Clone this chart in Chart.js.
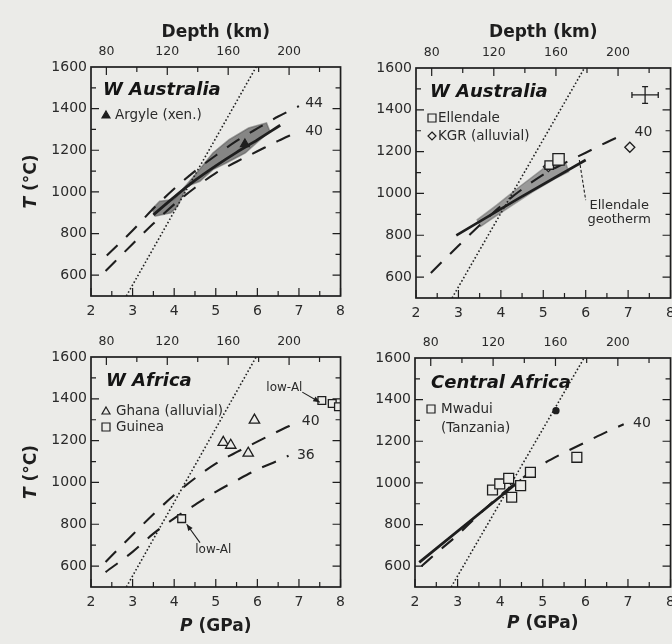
<!DOCTYPE html>
<html>
<head>
<meta charset="utf-8">
<title>P-T geotherms</title>
<script src="https://cdn.jsdelivr.net/npm/chart.js@4.4.1/dist/chart.umd.min.js"></script>
<style>
  html, body { margin: 0; padding: 0; width: 672px; height: 644px; overflow: hidden; background: #ebebe8; }
  canvas { position: absolute; }
</style>
</head>
<body>
<canvas id="wa-argyle" width="352" height="322" style="left:0;top:0"></canvas>
<canvas id="wa-ellendale" width="330" height="322" style="left:352px;top:0"></canvas>
<canvas id="w-africa" width="352" height="322" style="left:0;top:322px"></canvas>
<canvas id="c-africa" width="330" height="322" style="left:352px;top:322px"></canvas>
<script>
// ---- values: P in GPa, T in deg C ----
const pTicks = [2, 3, 4, 5, 6, 7, 8];
const tTicks = [600, 800, 1000, 1200, 1400, 1600];
const depthTicks = [80, 120, 160, 200];
// depth (km) that lines up with P = 2 and P = 8 on the top axis
const DEPTH_AT_P2 = 69.9;
const DEPTH_AT_P8 = 233.8;

// graphite / diamond boundary (dotted)
const gdP = [2.85, 5.97];
const gdT = [500, 1600];

// model conductive geotherms (dashed), 44 / 40 / 36 mW/m2
const geo44P = [2.38, 3.0, 3.5, 4.0, 4.5, 5.0, 5.5, 6.0, 6.5, 7.0];
const geo44T = [694, 815, 920, 1015, 1100, 1175, 1245, 1305, 1362, 1412];
const geo40P = [2.35, 3.0, 3.5, 4.0, 4.5, 5.0, 5.5, 6.0, 6.5, 6.9];
const geo40T = [620, 750, 848, 940, 1020, 1090, 1145, 1195, 1245, 1282];
const geo36P = [2.35, 3.0, 3.5, 4.0, 4.5, 5.0, 5.5, 6.0, 6.5, 6.75];
const geo36T = [571, 668, 755, 828, 893, 955, 1010, 1062, 1105, 1128];

// W Australia - Argyle xenoliths
const argCloudP = [3.46, 3.65, 4.0, 4.23, 4.54, 4.93, 5.32, 5.79, 6.22, 6.3, 6.02, 5.71, 5.25, 4.93, 4.62, 4.31, 4.08, 3.92, 3.53];
const argCloudT = [915, 955, 963, 1019, 1091, 1187, 1251, 1307, 1331, 1291, 1243, 1187, 1139, 1107, 1051, 1027, 931, 899, 883];
const argFitP = [3.5, 4.0, 4.5, 5.0, 5.5, 6.0, 6.55];
const argFitT = [890, 975, 1055, 1125, 1190, 1250, 1320];
const argyleP = [5.7];
const argyleT = [1230];

// W Australia - Ellendale / KGR
const ellCloudP = [3.43, 3.9, 4.44, 5.06, 5.53, 5.6, 5.29, 4.75, 4.21, 3.74, 3.51];
const ellCloudT = [872, 944, 1032, 1128, 1144, 1104, 1072, 1008, 936, 872, 840];
const ellFitP = [2.95, 4.45, 6.0];
const ellFitT = [800, 980, 1160];
const ellendaleP = [5.14, 5.36];
const ellendaleT = [1136, 1163];
const kgrP = [5.12, 7.04];
const kgrT = [1128, 1221];
const errHP = [7.09, 7.71];
const errHT = [1471, 1471];
const errVP = [7.4, 7.4];
const errVT = [1431, 1511];

// W Africa - Ghana / Guinea
const ghanaP = [5.18, 5.36, 5.78, 5.93];
const ghanaT = [1192, 1178, 1140, 1298];
const guineaP = [4.18, 7.55, 7.8, 7.95];
const guineaT = [827, 1392, 1378, 1362];

// Central Africa - Mwadui
const caDashP = [2.15, 2.6, 3.0, 3.5, 4.0, 4.5, 5.0, 5.5, 6.0, 6.5, 6.9];
const caDashT = [600, 680, 750, 848, 940, 1020, 1090, 1145, 1195, 1245, 1282];
const mwFitP = [2.1, 4.3, 4.5];
const mwFitT = [618, 984, 1015];
const mwaduiP = [3.82, 3.99, 4.2, 4.27, 4.48, 4.71, 5.8];
const mwaduiT = [966, 995, 1022, 931, 987, 1051, 1123];
const mwDotP = [5.31];
const mwDotT = [1347];

// ---- styles ----
const INK = '#1e1e1e';
const PAPER = '#ebebe8';
const FONT = 'DejaVu Sans';
const DOTTED = { borderDash: [1.6, 2.2], borderWidth: 1.6, borderColor: '#222' };
const DASHED = { borderDash: [15, 12], borderWidth: 2.1, cubicInterpolationMode: 'monotone' };

function pts(P, T) {
  return P.map((p, i) => ({ x: p, y: T[i] }));
}
function lineSet(P, T, style) {
  return Object.assign({ data: pts(P, T), showLine: true, pointRadius: 0, borderColor: INK, borderWidth: 2, fill: false, order: 2 }, style);
}
function markSet(P, T, style) {
  return Object.assign({ data: pts(P, T), showLine: false, pointStyle: 'rect', pointRadius: 6, borderColor: INK, borderWidth: 1.3, backgroundColor: PAPER, order: 0 }, style);
}

function richText(ctx, parts, x, y) {
  let w = 0;
  parts.forEach(([s, f]) => { ctx.font = f; w += ctx.measureText(s).width; });
  let cx = x - w / 2;
  ctx.textAlign = 'left';
  ctx.textBaseline = 'middle';
  parts.forEach(([s, f]) => { ctx.font = f; ctx.fillText(s, cx, y); cx += ctx.measureText(s).width; });
}

function marker(ctx, sym, x, y, r) {
  ctx.beginPath();
  if (sym === 'square') {
    ctx.rect(x - r, y - r, 2 * r, 2 * r);
  } else if (sym === 'diamond') {
    ctx.moveTo(x, y - r); ctx.lineTo(x + r, y); ctx.lineTo(x, y + r); ctx.lineTo(x - r, y); ctx.closePath();
  } else {
    ctx.moveTo(x, y - r); ctx.lineTo(x + r, y + r * 0.75); ctx.lineTo(x - r, y + r * 0.75); ctx.closePath();
  }
  ctx.fillStyle = sym === 'triFilled' ? INK : PAPER;
  ctx.fill();
  ctx.lineWidth = 1.2;
  ctx.stroke();
}

// frame, inward ticks, titles, legend and notes
const deco = {
  id: 'deco',
  afterDraw(chart, args, o) {
    const { ctx, chartArea: a, scales } = chart;
    const xs = scales.x, ys = scales.y, ds = scales.depth;
    ctx.save();
    ctx.strokeStyle = INK;
    ctx.lineWidth = 1.2;
    ctx.beginPath();
    for (let p = 2; p <= 8; p += 0.5) {
      const x = xs.getPixelForValue(p);
      const len = p % 1 === 0 ? 8 : 5;
      ctx.moveTo(x, a.bottom); ctx.lineTo(x, a.bottom - len);
    }
    for (let d = 80; d <= 220; d += 20) {
      const x = ds.getPixelForValue(d);
      const len = d % 40 === 0 ? 8 : 5;
      ctx.moveTo(x, a.top); ctx.lineTo(x, a.top + len);
    }
    for (let t = 600; t <= 1500; t += 100) {
      const y = ys.getPixelForValue(t);
      const len = t % 200 === 0 ? 8 : 5;
      ctx.moveTo(a.left, y); ctx.lineTo(a.left + len, y);
      ctx.moveTo(a.right, y); ctx.lineTo(a.right - len, y);
    }
    ctx.stroke();
    ctx.lineWidth = 1.7;
    ctx.strokeRect(a.left, a.top, a.right - a.left, a.bottom - a.top);

    ctx.fillStyle = INK;
    const bold = 'bold 17px ' + FONT;
    const boldIt = 'italic bold 17px ' + FONT;
    const midX = (a.left + a.right) / 2;
    if (o.depthTitleY) richText(ctx, [['Depth (km)', bold]], midX, o.depthTitleY);
    if (o.pTitleY) richText(ctx, [['P', boldIt], [' (GPa)', bold]], midX, o.pTitleY);
    if (o.tTitleX) {
      ctx.save();
      ctx.translate(o.tTitleX, (a.top + a.bottom) / 2);
      ctx.rotate(-Math.PI / 2);
      richText(ctx, [['T', boldIt], [' (°C)', bold]], 0, 0);
      ctx.restore();
    }

    // panel title
    ctx.font = 'italic bold 18px ' + FONT;
    ctx.fillStyle = '#151515';
    ctx.textAlign = 'left';
    ctx.textBaseline = 'middle';
    ctx.fillText(o.title, a.left + o.titleDx, a.top + o.titleDy);

    // legend
    ctx.font = '13.5px ' + FONT;
    o.legend.forEach(item => {
      const y = a.top + item.dy;
      if (item.sym) {
        ctx.strokeStyle = INK;
        marker(ctx, item.sym, a.left + o.legendDx, y, 4);
      }
      ctx.fillStyle = '#2a2a2a';
      ctx.textAlign = 'left';
      ctx.fillText(item.text, a.left + o.legendTextDx, y);
    });

    // leader lines / arrows
    (o.arrows || []).forEach(ar => {
      const x1 = xs.getPixelForValue(ar.from[0]), y1 = ys.getPixelForValue(ar.from[1]);
      const x2 = xs.getPixelForValue(ar.to[0]), y2 = ys.getPixelForValue(ar.to[1]);
      ctx.strokeStyle = INK;
      ctx.lineWidth = 1.1;
      ctx.setLineDash(ar.dash || []);
      ctx.beginPath(); ctx.moveTo(x1, y1); ctx.lineTo(x2, y2); ctx.stroke();
      ctx.setLineDash([]);
      if (ar.head) {
        const ang = Math.atan2(y2 - y1, x2 - x1);
        ctx.beginPath();
        ctx.moveTo(x2, y2);
        ctx.lineTo(x2 - 7 * Math.cos(ang - 0.4), y2 - 7 * Math.sin(ang - 0.4));
        ctx.lineTo(x2 - 7 * Math.cos(ang + 0.4), y2 - 7 * Math.sin(ang + 0.4));
        ctx.closePath();
        ctx.fillStyle = INK;
        ctx.fill();
      }
    });

    // text notes at data positions
    (o.notes || []).forEach(n => {
      ctx.font = (n.size || 14) + 'px ' + FONT;
      ctx.fillStyle = '#2a2a2a';
      ctx.textAlign = n.align || 'left';
      ctx.textBaseline = 'middle';
      ctx.fillText(n.text, xs.getPixelForValue(n.p), ys.getPixelForValue(n.t));
    });
    ctx.restore();
  }
};

function scalesFor(g) {
  const tickFont = { family: FONT, size: 14 };
  const base = {
    type: 'linear',
    grid: { display: false, drawTicks: false },
    border: { display: false }
  };
  return {
    x: Object.assign({}, base, {
      position: 'bottom', min: 2, max: 8,
      afterBuildTicks: s => { s.ticks = pTicks.map(v => ({ value: v })); },
      ticks: { font: tickFont, color: '#2a2a2a', padding: 7, maxRotation: 0, autoSkip: false, callback: v => String(v) },
      afterFit: s => { s.height = g.bottom; }
    }),
    depth: Object.assign({}, base, {
      axis: 'x', position: 'top', min: DEPTH_AT_P2, max: DEPTH_AT_P8,
      afterBuildTicks: s => { s.ticks = depthTicks.map(v => ({ value: v })); },
      ticks: { font: { family: FONT, size: 12.5 }, color: '#2a2a2a', padding: 8, maxRotation: 0, autoSkip: false, callback: v => String(v) },
      afterFit: s => { s.height = g.top; }
    }),
    y: Object.assign({}, base, {
      position: 'left', min: 500, max: 1600,
      afterBuildTicks: s => { s.ticks = tTicks.map(v => ({ value: v })); },
      ticks: { font: tickFont, color: '#2a2a2a', padding: 4, autoSkip: false, callback: v => String(v) },
      afterFit: s => { s.width = g.left; }
    })
  };
}

function makePanel(id, g, datasets, decoOpts) {
  return new Chart(document.getElementById(id), {
    type: 'scatter',
    data: { datasets: datasets },
    options: {
      responsive: false,
      animation: false,
      layout: { padding: { left: 0, right: g.right, top: 0, bottom: 0 } },
      plugins: { legend: { display: false }, tooltip: { enabled: false }, deco: decoOpts },
      scales: scalesFor(g)
    },
    plugins: [deco]
  });
}

// W Australia (Argyle)
makePanel('wa-argyle', { left: 91, right: 4, top: 67, bottom: 26 }, [
  lineSet(argCloudP, argCloudT, { fill: 'shape', backgroundColor: 'rgba(80,80,80,0.65)', borderColor: 'rgba(80,80,80,0.5)', borderWidth: 1.5, order: 5 }),
  lineSet(gdP, gdT, DOTTED),
  lineSet(geo44P, geo44T, DASHED),
  lineSet(geo40P, geo40T, DASHED),
  lineSet(argFitP, argFitT, { borderWidth: 2.8, cubicInterpolationMode: 'monotone' }),
  markSet(argyleP, argyleT, { pointStyle: 'triangle', pointRadius: 5, backgroundColor: INK })
], {
  title: 'W Australia', titleDx: 12, titleDy: 23,
  depthTitleY: 33, tTitleX: 32,
  legendDx: 15, legendTextDx: 24,
  legend: [{ sym: 'triFilled', text: 'Argyle (xen.)', dy: 48 }],
  notes: [{ p: 7.15, t: 1426, text: '44' }, { p: 7.15, t: 1293, text: '40' }]
});

// W Australia (Ellendale, KGR)
makePanel('wa-ellendale', { left: 64, right: 10, top: 68, bottom: 24 }, [
  lineSet(ellCloudP, ellCloudT, { fill: 'shape', backgroundColor: 'rgba(100,100,100,0.6)', borderColor: 'rgba(100,100,100,0.5)', borderWidth: 1.5, order: 5 }),
  lineSet(gdP, gdT, DOTTED),
  lineSet(geo40P, geo40T, DASHED),
  lineSet(ellFitP, ellFitT, { borderWidth: 2.6 }),
  markSet(ellendaleP, ellendaleT, { pointStyle: 'rect', pointRadius: [6, 8] }),
  markSet(kgrP, kgrT, { pointStyle: 'rectRot', pointRadius: 5 }),
  lineSet(errHP, errHT, { borderWidth: 1.3 }),
  lineSet(errVP, errVT, { borderWidth: 1.3 }),
  markSet(errHP, errHT, { pointStyle: 'line', rotation: 90, pointRadius: 3 }),
  markSet(errVP, errVT, { pointStyle: 'line', pointRadius: 3 })
], {
  title: 'W Australia', titleDx: 14, titleDy: 24,
  depthTitleY: 33,
  legendDx: 16, legendTextDx: 22,
  legend: [{ sym: 'square', text: 'Ellendale', dy: 50 }, { sym: 'diamond', text: 'KGR (alluvial)', dy: 68 }],
  arrows: [{ from: [5.85, 1160], to: [6.0, 968], dash: [3, 2] }],
  notes: [
    { p: 7.15, t: 1292, text: '40' },
    { p: 6.79, t: 942, text: 'Ellendale', size: 13, align: 'center' },
    { p: 6.79, t: 875, text: 'geotherm', size: 13, align: 'center' }
  ]
});

// W Africa (Ghana, Guinea)
makePanel('w-africa', { left: 91, right: 4, top: 35, bottom: 57 }, [
  lineSet(gdP, gdT, DOTTED),
  lineSet(geo40P, geo40T, DASHED),
  lineSet(geo36P, geo36T, DASHED),
  markSet(ghanaP, ghanaT, { pointStyle: 'triangle', pointRadius: 6 }),
  markSet(guineaP, guineaT, { pointStyle: 'rect', pointRadius: 5.5 })
], {
  title: 'W Africa', titleDx: 15, titleDy: 24,
  tTitleX: 32, pTitleY: 305,
  legendDx: 15, legendTextDx: 25,
  legend: [{ sym: 'triangle', text: 'Ghana (alluvial)', dy: 54 }, { sym: 'square', text: 'Guinea', dy: 70 }],
  arrows: [
    { from: [7.08, 1432], to: [7.5, 1384], head: true },
    { from: [4.62, 712], to: [4.3, 800], head: true }
  ],
  notes: [
    { p: 7.07, t: 1292, text: '40' },
    { p: 6.95, t: 1131, text: '36' },
    { p: 6.65, t: 1452, text: 'low-Al', size: 12, align: 'center' },
    { p: 4.94, t: 677, text: 'low-Al', size: 12, align: 'center' }
  ]
});

// Central Africa (Mwadui)
makePanel('c-africa', { left: 63, right: 10, top: 36, bottom: 57 }, [
  lineSet(gdP, gdT, DOTTED),
  lineSet(caDashP, caDashT, DASHED),
  lineSet(mwFitP, mwFitT, { borderWidth: 2.8 }),
  markSet(mwaduiP, mwaduiT, { pointStyle: 'rect', pointRadius: 7 }),
  markSet(mwDotP, mwDotT, { pointStyle: 'circle', pointRadius: 3, backgroundColor: INK })
], {
  title: 'Central Africa', titleDx: 16, titleDy: 25,
  pTitleY: 302,
  legendDx: 16, legendTextDx: 26,
  legend: [{ sym: 'square', text: 'Mwadui', dy: 51 }, { text: '(Tanzania)', dy: 70 }],
  notes: [{ p: 7.12, t: 1284, text: '40' }]
});
</script>
</body>
</html>
